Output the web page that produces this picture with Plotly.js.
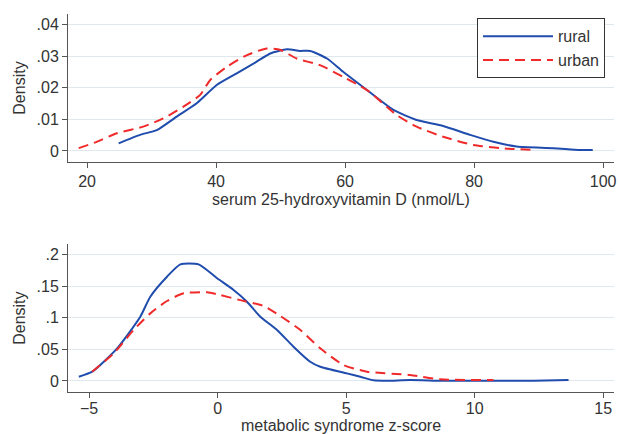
<!DOCTYPE html>
<html>
<head>
<meta charset="utf-8">
<script src="https://cdn.plot.ly/plotly-3.0.1.min.js"></script>
<style>html,body{margin:0;padding:0;background:#fff;}#chart{width:619px;height:434px;}</style>
</head>
<body>
<div id="chart"></div>
<script>
// Top panel: serum 25-hydroxyvitamin D (nmol/L)
const vitRuralX = [24.9, 28.2, 30.8, 33.9, 37.0, 40.1, 43.2, 46.3, 48.4, 51.0, 53.0, 54.6, 57.2, 59.7, 63.4, 67.5, 71.1, 75.2, 79.4, 83.0, 86.6, 92.3, 96.4, 98.4];
const vitRuralY = [0.0024, 0.0051, 0.0066, 0.0109, 0.0151, 0.0209, 0.0246, 0.0283, 0.0309, 0.0322, 0.0317, 0.0317, 0.0293, 0.0251, 0.0193, 0.0130, 0.0098, 0.0079, 0.0051, 0.0029, 0.0014, 0.0009, 0.0003, 0.0003];
const vitUrbanX = [18.7, 21.5, 24.6, 28.7, 31.8, 34.9, 37.5, 39.1, 41.7, 44.8, 47.9, 50.0, 52.5, 56.1, 59.7, 63.4, 68.0, 71.1, 75.2, 79.9, 84.0, 89.7];
const vitUrbanY = [0.0009, 0.0029, 0.0056, 0.0077, 0.0103, 0.0140, 0.0177, 0.0225, 0.0267, 0.0304, 0.0325, 0.0320, 0.0293, 0.0272, 0.0235, 0.0193, 0.0114, 0.0077, 0.0045, 0.0019, 0.0009, 0.0003];

// Bottom panel: metabolic syndrome z-score
const metRuralX = [-5.40, -4.88, -3.91, -3.01, -2.62, -1.97, -1.45, -0.74, -0.02, 0.62, 1.14, 1.66, 2.31, 2.95, 3.60, 3.99, 5.03, 5.55, 6.07, 6.59, 7.49, 8.79, 11.0, 12.29, 13.65];
const metRuralY = [0.0068, 0.0147, 0.0517, 0.1017, 0.1334, 0.165, 0.1846, 0.1846, 0.1625, 0.144, 0.1255, 0.1017, 0.0807, 0.0543, 0.0305, 0.0226, 0.0121, 0.0068, 0.0010, 0.0003, 0.0016, 0.0003, 0.0003, 0.0005, 0.0016];
const metUrbanX = [-4.88, -4.04, -3.27, -2.62, -1.97, -1.32, -0.41, 0.10, 0.88, 1.79, 2.44, 3.22, 3.99, 4.90, 5.81, 7.49, 8.66, 10.73];
const metUrbanY = [0.0147, 0.0438, 0.0807, 0.107, 0.1266, 0.1387, 0.1403, 0.136, 0.128, 0.1187, 0.1028, 0.0807, 0.0517, 0.0253, 0.0147, 0.0095, 0.0026, 0.0016];

const topXTicks = [20, 40, 60, 80, 100];
const topYTicks = [0, 0.01, 0.02, 0.03, 0.04];
const topYLabels = ["0", ".01", ".02", ".03", ".04"];
const botXTicks = [-5, 0, 5, 10, 15];
const botYTicks = [0, 0.05, 0.1, 0.15, 0.2];
const botYLabels = ["0", ".05", ".1", ".15", ".2"];

const BLUE = "#1f4cad";
const RED = "#f02a2a";
const FONT = {family: "Liberation Sans, Arial, sans-serif", size: 16, color: "#333"};

const traces = [
  {x: vitRuralX, y: vitRuralY, xaxis: "x", yaxis: "y", mode: "lines", name: "rural",
   line: {color: BLUE, width: 2, shape: "spline", smoothing: 0.6}},
  {x: vitUrbanX, y: vitUrbanY, xaxis: "x", yaxis: "y", mode: "lines", name: "urban",
   line: {color: RED, width: 2, dash: "10px,6px", shape: "spline", smoothing: 0.6}},
  {x: metRuralX, y: metRuralY, xaxis: "x2", yaxis: "y2", mode: "lines", name: "rural", showlegend: false,
   line: {color: BLUE, width: 2, shape: "spline", smoothing: 0.6}},
  {x: metUrbanX, y: metUrbanY, xaxis: "x2", yaxis: "y2", mode: "lines", name: "urban", showlegend: false,
   line: {color: RED, width: 2, dash: "10px,6px", shape: "spline", smoothing: 0.6}}
];

const axCommon = {
  showline: true, linecolor: "#555", linewidth: 1,
  ticks: "outside", ticklen: 5, tickcolor: "#555", tickwidth: 1,
  zeroline: false, automargin: false, tickfont: FONT
};

const layout = {
  width: 619, height: 434,
  margin: {l: 0, r: 0, t: 0, b: 0},
  paper_bgcolor: "#fff", plot_bgcolor: "#fff",
  font: FONT,
  showlegend: true,
  legend: {x: 0.7706, y: 0.958, xanchor: "left", yanchor: "top",
           bordercolor: "#333", borderwidth: 1, bgcolor: "#fff",
           font: FONT, itemwidth: 70, tracegroupgap: 0},
  xaxis: Object.assign({}, axCommon, {domain: [0.1099, 0.992], range: [17.05, 101.7], anchor: "y",
    tickvals: topXTicks, showgrid: false,
    title: {text: "serum 25-hydroxyvitamin D (nmol/L)", font: FONT, standoff: 4}}),
  yaxis: Object.assign({}, axCommon, {domain: [0.6267, 0.9677], range: [-0.0035, 0.0434], anchor: "x",
    tickvals: topYTicks, ticktext: topYLabels, showgrid: true, gridcolor: "#dfe8ec", gridwidth: 1,
    title: {text: "Density", font: FONT, standoff: 6}}),
  xaxis2: Object.assign({}, axCommon, {domain: [0.1099, 0.992], range: [-5.82, 15.42], anchor: "y2",
    tickvals: botXTicks, showgrid: false, ticklabelstandoff: -3,
    title: {text: "metabolic syndrome z-score", font: FONT, standoff: 6}}),
  yaxis2: Object.assign({}, axCommon, {domain: [0.0968, 0.4371], range: [-0.0174, 0.2163], anchor: "x2",
    tickvals: botYTicks, ticktext: botYLabels, showgrid: true, gridcolor: "#dfe8ec", gridwidth: 1,
    title: {text: "Density", font: FONT, standoff: 6}})
};

Plotly.newPlot("chart", traces, layout, {staticPlot: true, displayModeBar: false});
</script>
</body>
</html>
